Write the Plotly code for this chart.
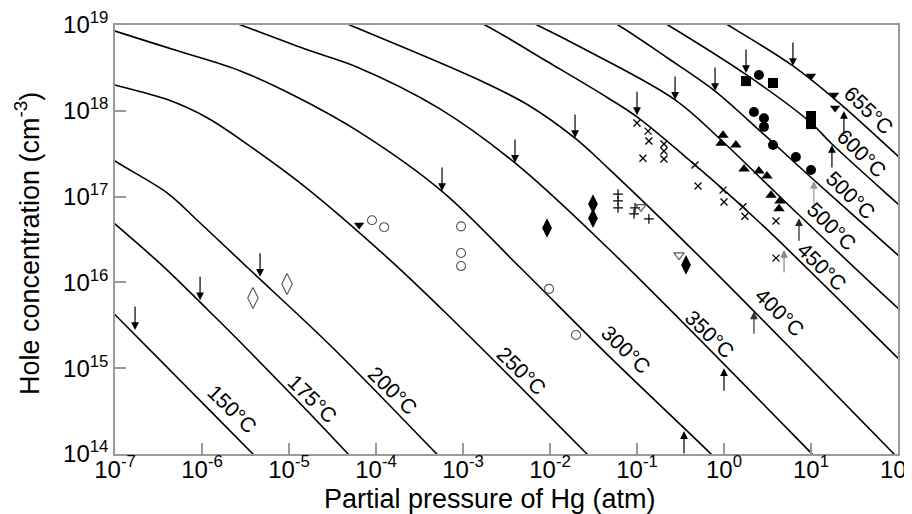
import numpy as np
import plotly.graph_objects as go

# ---------------- isotherm curves (P_Hg in atm, hole conc. in cm^-3) ----------------
T150_P = [7.9e-8, 1.0e-7, 6.2e-7, 3.85e-6, 5.0e-6]
T150_H = [5.3e15, 4.2e15, 6.5e14, 1.0e14, 7.6e13]

T175_P = [7.7e-8, 1.0e-7, 3.76e-7, 1.17e-6, 3.21e-6, 4.77e-5, 6.2e-5]
T175_H = [6.1e16, 4.8e16, 1.47e16, 4.77e15, 1.72e15, 1.0e14, 7.4e13]

T200_P = [7.3e-8, 1.0e-7, 4.0e-7, 9.0e-7, 3.38e-6, 3.2e-5, 5.0e-4, 6.7e-4]
T200_H = [3.3e17, 2.6e17, 1.1e17, 5.2e16, 1.47e16, 1.72e15, 1.0e14, 7.4e13]

T250_P = [7.3e-8, 1.0e-7, 4.0e-7, 1.17e-6, 3.66e-6, 1.53e-5, 1.37e-4, 6.7e-4, 2.66e-2, 3.47e-2]
T250_H = [2.2e18, 2.0e18, 1.35e18, 8.2e17, 3.8e17, 1.3e17, 1.92e16, 4.17e15, 1.0e14, 7.6e13]

T300_P = [7.3e-8, 1.0e-7, 4.9e-7, 2.8e-6, 1.17e-5, 6.2e-5, 5.7e-4, 4.6e-3, 4.6e-2, 0.71, 0.925]
T300_H = [9.5e18, 8.5e18, 5.1e18, 2.9e18, 1.49e18, 5.8e17, 1.16e17, 1.47e16, 1.43e15, 1.0e14, 7.6e13]

T350_P = [6.2e-7, 2.8e-6, 1.65e-5, 6.2e-5, 5.2e-4, 3.96e-3, 4.65e-2, 10.3, 13.4]
T350_H = [1.76e19, 1.0e19, 5.1e18, 3.2e18, 1.08e18, 2.47e17, 2.5e16, 1.0e14, 7.6e13]

T400_P = [1.27e-5, 5.0e-5, 1.37e-3, 5.6e-3, 1.94e-2, 4.65e-2, 0.545, 90, 117]
T400_H = [1.76e19, 1.0e19, 2.41e18, 1.17e18, 4.8e17, 2.15e17, 1.92e16, 1.0e14, 7.6e13]

T450_P = [3.96e-4, 1.79e-3, 9.5e-3, 4.65e-2, 0.1, 0.464, 2.46, 100, 170]
T450_H = [2.07e19, 1.0e19, 3.7e18, 1.41e18, 8.5e17, 2.34e17, 5.2e16, 1.31e15, 7.7e14]

T500A_P = [1.49e-3, 7.1e-3, 2.74e-2, 0.274, 0.925, 3.2, 7.28, 100, 170]
T500A_H = [2.07e19, 1.0e19, 4.97e18, 1.34e18, 4.57e17, 1.36e17, 6.1e16, 5.0e15, 3.1e15]

T500B_P = [1.61e-2, 6.05e-2, 0.227, 0.789, 1.89, 10.8, 100, 170]
T500B_H = [2.07e19, 1.0e19, 4.1e18, 1.70e18, 7.8e17, 1.56e17, 2.08e16, 1.29e16]

T600_P = [6.05e-2, 0.227, 1.89, 9.75, 17.4, 100, 170]
T600_H = [2.18e19, 1.0e19, 2.55e18, 7.4e17, 4.1e17, 8.2e16, 5.06e16]

T655_P = [0.296, 1.11, 6.2, 20.4, 100, 170]
T655_H = [2.18e19, 1.0e19, 3.33e18, 1.27e18, 2.97e17, 1.83e17]

CURVES = [(T150_P, T150_H), (T175_P, T175_H), (T200_P, T200_H), (T250_P, T250_H),
          (T300_P, T300_H), (T350_P, T350_H), (T400_P, T400_H), (T450_P, T450_H),
          (T500A_P, T500A_H), (T500B_P, T500B_H), (T600_P, T600_H), (T655_P, T655_H)]

# ---------------- curve labels ----------------
LABEL_TEXT = ["150°C", "175°C", "200°C", "250°C", "300°C", "350°C", "400°C",
              "450°C", "500°C", "500°C", "600°C", "655°C"]
LABEL_P = [2.27e-6, 1.84e-5, 1.57e-4, 4.65e-3, 7.5e-2, 0.69, 4.4, 13.4, 17.4, 28.8, 38.5, 46.4]
LABEL_H = [3.34e14, 4.38e14, 5.57e14, 9.3e14, 1.67e15, 2.44e15, 4.4e15, 1.55e16, 4.43e16,
           1.02e17, 3.14e17, 9.95e17]

# ---------------- arrows (tip positions) ----------------
DOWN_P = [1.70e-7, 9.5e-7, 4.65e-6, 5.74e-4, 3.96e-3, 1.94e-2, 0.1, 0.274, 0.789, 1.79, 6.2]
DOWN_H = [2.79e15, 6.2e15, 1.16e16, 1.16e17, 2.47e17, 4.82e17, 8.9e17, 1.34e18, 1.70e18,
          2.76e18, 3.33e18]
UP_P = [0.347, 1.0, 2.21, 4.9, 7.28, 10.8, 17.4, 23.9]
UP_H = [1.85e14, 1.0e15, 4.6e15, 2.39e16, 5.6e16, 1.52e17, 4.0e17, 9.95e17]

# ---------------- experimental points ----------------
OPEN_DIAMOND_P = [3.85e-6, 9.5e-6]
OPEN_DIAMOND_H = [6.6e15, 9.6e15]

OPEN_CIRCLE_P = [9.0e-5, 1.24e-4, 9.5e-4, 9.5e-4, 9.5e-4, 9.75e-3, 1.99e-2]
OPEN_CIRCLE_H = [5.3e16, 4.4e16, 4.5e16, 2.2e16, 1.55e16, 8.4e15, 2.44e15]

FILLED_DIAMOND_P = [9.25e-3, 3.12e-2, 3.12e-2, 0.366]
FILLED_DIAMOND_H = [4.3e16, 8.2e16, 5.6e16, 1.6e16]

PLUS_P = [6.05e-2, 6.05e-2, 6.05e-2, 9.5e-2, 9.25e-2, 0.137]
PLUS_H = [1.07e17, 8.9e16, 7.4e16, 7.4e16, 6.3e16, 5.5e16]

OPEN_TRI_DOWN_P = [0.111, 0.304]
OPEN_TRI_DOWN_H = [7.6e16, 2.08e16]

CROSS_P = [0.1, 0.134, 0.137, 0.204, 0.204, 0.204, 0.117, 0.464, 0.503, 0.975, 1.0,
           1.65, 1.74, 3.96, 3.96]
CROSS_H = [7.2e17, 5.8e17, 4.45e17, 4.1e17, 3.4e17, 2.74e17, 2.8e17, 2.33e17, 1.33e17,
           1.19e17, 8.65e16, 7.6e16, 5.9e16, 5.2e16, 1.92e16]

TRI_UP_P = [0.975, 0.925, 1.37, 1.70, 2.52, 3.12, 3.47, 4.4, 4.29]
TRI_UP_H = [5.2e17, 4.2e17, 4.0e17, 2.1e17, 1.99e17, 1.74e17, 1.04e17, 8.9e16, 7.2e16]

CIRCLE_P = [2.52, 2.21, 2.88, 2.88, 3.66, 6.7, 10.0]
CIRCLE_H = [2.61e18, 9.7e17, 8.2e17, 6.5e17, 4.0e17, 2.9e17, 2.04e17]

SQUARE_P = [1.79, 3.66, 10.0, 10.0]
SQUARE_H = [2.22e18, 2.11e18, 8.7e17, 7.0e17]

TRI_DOWN_P = [6.4e-5, 10.0, 18.4, 18.9]
TRI_DOWN_H = [4.67e16, 2.55e18, 1.53e18, 1.08e18]

X_TICKS = [1e-7, 1e-6, 1e-5, 1e-4, 1e-3, 1e-2, 1e-1, 1e0, 1e1, 1e2]
X_TICK_TEXT = ["10<sup>-7</sup>", "10<sup>-6</sup>", "10<sup>-5</sup>", "10<sup>-4</sup>",
               "10<sup>-3</sup>", "10<sup>-2</sup>", "10<sup>-1</sup>", "10<sup>0</sup>",
               "10<sup>1</sup>", "10<sup>2</sup>"]
Y_TICKS = [1e14, 1e15, 1e16, 1e17, 1e18, 1e19]
Y_TICK_TEXT = ["10<sup>14</sup>", "10<sup>15</sup>", "10<sup>16</sup>", "10<sup>17</sup>",
               "10<sup>18</sup>", "10<sup>19</sup>"]

FONT = "Liberation Sans, Arial, sans-serif"

fig = go.Figure()

for P, H in CURVES:
    fig.add_trace(go.Scatter(x=P, y=H, mode="lines",
                             line=dict(color="black", width=1.6, shape="spline", smoothing=1.0),
                             hoverinfo="skip", showlegend=False))


def pts(P, H, symbol, size, color, lw=1.2, line_color=None):
    fig.add_trace(go.Scatter(
        x=P, y=H, mode="markers", showlegend=False, cliponaxis=False,
        marker=dict(symbol=symbol, size=size, color=color,
                    line=dict(width=lw, color=line_color or color))))


pts(OPEN_DIAMOND_P, OPEN_DIAMOND_H, "diamond-tall-open", 15, "#555555", 1.1)
pts(OPEN_CIRCLE_P, OPEN_CIRCLE_H, "circle-open", 9, "#555555", 1.1)
pts(FILLED_DIAMOND_P, FILLED_DIAMOND_H, "diamond-tall", 14, "black", 0)
pts(PLUS_P, PLUS_H, "cross-thin-open", 7, "black", 1.2)
pts(OPEN_TRI_DOWN_P, OPEN_TRI_DOWN_H, "triangle-down-open", 9, "#555555", 1.1)
pts(CROSS_P, CROSS_H, "x-thin-open", 7, "black", 1.3)
pts(TRI_UP_P, TRI_UP_H, "triangle-up", 10, "black", 0)
pts(CIRCLE_P, CIRCLE_H, "circle", 10, "black", 0)
pts(SQUARE_P, SQUARE_H, "square", 10, "black", 0)
pts(TRI_DOWN_P, TRI_DOWN_H, "triangle-down", 9, "black", 0)

annotations = []
for t, p, h in zip(LABEL_TEXT, LABEL_P, LABEL_H):
    annotations.append(dict(x=np.log10(p), y=np.log10(h), xref="x", yref="y", text=t,
                            showarrow=False, textangle=44,
                            font=dict(family=FONT, size=21, color="black"),
                            xanchor="center", yanchor="middle"))
for p, h in zip(DOWN_P, DOWN_H):
    annotations.append(dict(x=np.log10(p), y=np.log10(h), xref="x", yref="y", text="",
                            showarrow=True, ax=0, ay=-25, arrowhead=2, arrowsize=1.3,
                            arrowwidth=1.2, arrowcolor="black", standoff=0))
UP_COLORS = ["black", "black", "#333333", "#888888", "#222222", "#999999", "black", "black"]
for p, h, c in zip(UP_P, UP_H, UP_COLORS):
    annotations.append(dict(x=np.log10(p), y=np.log10(h), xref="x", yref="y", text="",
                            showarrow=True, ax=0, ay=24, arrowhead=2, arrowsize=1.3,
                            arrowwidth=1.2, arrowcolor=c, standoff=0))

# axis titles placed in paper coordinates
annotations.append(dict(x=0.479, y=-0.106, xref="paper", yref="paper", yanchor="middle",
                        xanchor="center", showarrow=False,
                        text="Partial pressure of Hg (atm)",
                        font=dict(family=FONT, size=27, color="black")))
annotations.append(dict(x=-0.112, y=0.49, xref="paper", yref="paper", yanchor="middle",
                        xanchor="center", showarrow=False, textangle=-90,
                        text="Hole concentration (cm<sup>-3</sup>)",
                        font=dict(family=FONT, size=27, color="black")))

axis_common = dict(type="log", showgrid=False, zeroline=False, ticks="inside", ticklen=11,
                   tickwidth=1.5, tickcolor="#9a9a9a", showline=True, linecolor="#9a9a9a",
                   linewidth=1.5, mirror=True, automargin=False, ticklabeloverflow="allow",
                   tickfont=dict(family=FONT, size=24, color="black"))

fig.update_layout(
    width=912, height=514,
    margin=dict(l=107, r=22, t=17, b=68, autoexpand=False),
    paper_bgcolor="white", plot_bgcolor="white",
    font=dict(family=FONT, color="black"),
    annotations=annotations,
    xaxis=dict(range=[-7, 2], tickvals=X_TICKS, ticktext=X_TICK_TEXT, ticklabelstandoff=-7,
               **axis_common),
    yaxis=dict(range=[14, 19], tickvals=Y_TICKS, ticktext=Y_TICK_TEXT, **axis_common),
)

fig.write_html("out.html")
